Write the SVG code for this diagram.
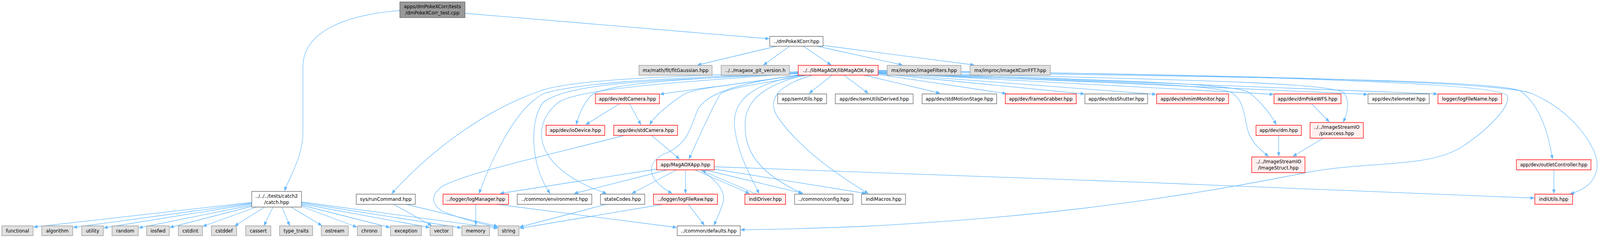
<svg xmlns="http://www.w3.org/2000/svg" width="4442" height="608" viewBox="0 0 4442 608" preserveAspectRatio="none">
<style>
svg{width:100vw;height:100vh}
text{font-family:"DejaVu Sans","Liberation Sans",sans-serif;font-size:13px;fill:#000;text-anchor:middle}
.w{fill:#ffffff;stroke:#666666;stroke-width:1.4}
.r{fill:#fff0f0;stroke:#ff0000;stroke-width:1.4}
.g{fill:#e0e0e0;stroke:#999999;stroke-width:1.4}
.s{fill:#999999;stroke:#666666;stroke-width:1.4}
#edges path{fill:none;stroke:#63b8ff;stroke-width:1.3;marker-end:url(#ah)}
</style>
<defs>
<marker id="ah" markerUnits="userSpaceOnUse" markerWidth="11" markerHeight="9" refX="10" refY="4" orient="auto"><path d="M0,0 L10,4 L0,8 z" fill="#63b8ff" stroke="#63b8ff"/></marker>
</defs>
<rect width="4442" height="608" fill="#ffffff"/>
<g id="edges">
<path d="M1110,27 C960,38 841,80 841,171 L841,337 C841,400 805,450 790,487"/>
<path d="M1291,34 L2135,99"/>
<path d="M699,517 L94,580"/>
<path d="M699,519 L204,581"/>
<path d="M699,521 L289,582"/>
<path d="M699,524 L386,582"/>
<path d="M699,527 L472,581"/>
<path d="M712,529 L564,578"/>
<path d="M735,529 L652,577"/>
<path d="M758,529 L733,576"/>
<path d="M783,529 L804,576"/>
<path d="M808,529 L893,576"/>
<path d="M837,527 L990,580"/>
<path d="M837,524 L1082,581"/>
<path d="M837,521 L1192,581"/>
<path d="M837,518 L1280,582"/>
<path d="M837,516 L1381,583"/>
<path d="M2156,118 L1937,166"/>
<path d="M2192,118 L2120,166"/>
<path d="M2230,118 L2307,166"/>
<path d="M2268,118 L2505,166"/>
<path d="M2285,116 L2704,166"/>
<path d="M2216,183 C1900,195 1600,200 1500,232 C1350,280 1200,380 1088,494"/>
<path d="M2216,185 C1900,200 1650,205 1515,237 C1430,270 1360,420 1330,494"/>
<path d="M2216,187 C1950,205 1600,200 1510,260 C1470,300 1470,420 1527,494"/>
<path d="M2216,188 C1950,205 1600,225 1550,262 C1470,320 1480,430 1683,494"/>
<path d="M2216,186 C1950,200 1680,210 1640,245 C1615,270 1605,300 1600,318"/>
<path d="M2216,191 C2100,210 1900,230 1833,241"/>
<path d="M2218,192 C2050,215 1930,225 1900,240 C1850,270 1815,300 1804,318"/>
<path d="M2243,192 C2100,215 2020,225 2000,240 C1980,270 1935,360 1913,406"/>
<path d="M2222,192 C2050,210 1960,240 1937,280 C1915,330 1910,370 1840,395 C1790,420 1800,460 1865,494"/>
<path d="M2226,192 C2080,215 2030,260 2040,330 C2050,400 2090,460 2107,494"/>
<path d="M2233,192 C2130,215 2080,250 2070,300 C2060,380 2100,440 2227,494"/>
<path d="M2255,192 C2150,220 2130,260 2160,300 C2220,380 2330,450 2410,494"/>
<path d="M2310,192 L2247,238"/>
<path d="M2343,192 L2410,238"/>
<path d="M2400,192 L2609,238"/>
<path d="M2438,190 L2793,239"/>
<path d="M2438,188 L3010,240"/>
<path d="M2438,187 L3209,241"/>
<path d="M2438,186 L3535,241"/>
<path d="M2438,185 L3796,241"/>
<path d="M2438,184 L3990,240"/>
<path d="M2438,186 C2900,200 3420,210 3465,235 C3500,258 3530,295 3543,318"/>
<path d="M2438,184 C3000,200 3680,205 3730,236 C3748,255 3742,290 3729,311"/>
<path d="M2438,188 C2900,205 3370,212 3420,237 C3455,258 3455,300 3462,325 C3470,360 3495,380 3521,399"/>
<path d="M2438,182 C3200,195 4150,200 4220,232 C4280,270 4300,350 4310,406"/>
<path d="M2438,180 C3300,190 4180,205 4255,240 C4330,270 4390,320 4425,385 C4450,440 4420,480 4360,495"/>
<path d="M2438,181 C3400,190 4170,210 4185,245 C4195,275 4120,340 4050,380 C3950,430 3800,410 3620,442 C3200,520 2800,560 2400,578 C2250,584 2150,586 2057,587"/>
<path d="M1720,265 L1627,318"/>
<path d="M1748,265 L1779,318"/>
<path d="M1733,346 C1550,390 1300,440 1230,475 C1190,500 1200,525 1230,540 C1280,560 1340,572 1381,581"/>
<path d="M1809,346 L1886,406"/>
<path d="M1823,432 L1389,494"/>
<path d="M1853,434 L1595,494"/>
<path d="M1878,434 L1755,494"/>
<path d="M1903,434 L1903,494"/>
<path d="M1945,434 C1990,460 2015,490 2008,515 C2000,540 1990,560 1982,575"/>
<path d="M1929,434 L2080,494"/>
<path d="M2100,496 L1949,436"/>
<path d="M1957,434 L2229,494"/>
<path d="M1983,432 L2403,494"/>
<path d="M1983,426 C2600,445 3600,480 4259,506"/>
<path d="M1911,522 L1955,575"/>
<path d="M1840,522 L1444,583"/>
<path d="M1683,522 L1443,580"/>
<path d="M1321,522 L1321,575"/>
<path d="M1380,522 L1878,581"/>
<path d="M1093,522 L1198,576"/>
<path d="M1127,522 L1381,578"/>
<path d="M3641,265 L3690,311"/>
<path d="M3550,346 L3550,399"/>
<path d="M3674,353 L3590,399"/>
<path d="M4314,434 L4314,494"/>
</g>
<g id="n_src"><rect class="s" x="1110" y="5" width="181" height="40"/><text x="1200.5" y="21">apps/dmPokeXCorr/tests</text><text x="1200.5" y="37">/dmPokeXCorr_test.cpp</text></g>
<g id="n_dmpx"><rect class="w" x="2137" y="93" width="148" height="25"/><text x="2211" y="110">../dmPokeXCorr.hpp</text></g>
<g id="n_fitg"><rect class="g" x="1774" y="167" width="203" height="25"/><text x="1875.5" y="184">mx/math/fit/fitGaussian.hpp</text></g>
<g id="n_git"><rect class="g" x="2002" y="167" width="190" height="25"/><text x="2097" y="184">../../magaox_git_version.h</text></g>
<g id="n_lib"><rect class="r" x="2216" y="167" width="222" height="25"/><text x="2327" y="184">../../libMagAOX/libMagAOX.hpp</text></g>
<g id="n_imf"><rect class="g" x="2463" y="167" width="205" height="25"/><text x="2565.5" y="184">mx/improc/imageFilters.hpp</text></g>
<g id="n_ixc"><rect class="g" x="2693" y="167" width="223" height="25"/><text x="2804.5" y="184">mx/improc/imageXCorrFFT.hpp</text></g>
<g id="n_edt"><rect class="r" x="1653" y="240" width="178" height="25"/><text x="1742" y="257">app/dev/edtCamera.hpp</text></g>
<g id="n_semu"><rect class="w" x="2159" y="240" width="136" height="25"/><text x="2227" y="257">app/semUtils.hpp</text></g>
<g id="n_semd"><rect class="w" x="2319" y="240" width="216" height="25"/><text x="2427" y="257">app/dev/semUtilsDerived.hpp</text></g>
<g id="n_stdm"><rect class="w" x="2560" y="240" width="207" height="25"/><text x="2663.5" y="257">app/dev/stdMotionStage.hpp</text></g>
<g id="n_fg"><rect class="r" x="2791" y="240" width="197" height="25"/><text x="2889.5" y="257">app/dev/frameGrabber.hpp</text></g>
<g id="n_dss"><rect class="w" x="3012" y="240" width="174" height="25"/><text x="3099" y="257">app/dev/dssShutter.hpp</text></g>
<g id="n_shm"><rect class="r" x="3211" y="240" width="200" height="25"/><text x="3311" y="257">app/dev/shmimMonitor.hpp</text></g>
<g id="n_wfs"><rect class="r" x="3537" y="240" width="186" height="25"/><text x="3630" y="257">app/dev/dmPokeWFS.hpp</text></g>
<g id="n_tel"><rect class="w" x="3798" y="240" width="170" height="25"/><text x="3883" y="257">app/dev/telemeter.hpp</text></g>
<g id="n_lfn"><rect class="r" x="3992" y="240" width="177" height="25"/><text x="4080.5" y="257">logger/logFileName.hpp</text></g>
<g id="n_io"><rect class="r" x="1516" y="320" width="163" height="26"/><text x="1597.5" y="337.5">app/dev/ioDevice.hpp</text></g>
<g id="n_stdc"><rect class="r" x="1704" y="320" width="177" height="26"/><text x="1792.5" y="337.5">app/dev/stdCamera.hpp</text></g>
<g id="n_dm"><rect class="r" x="3487" y="320" width="126" height="26"/><text x="3550" y="337.5">app/dev/dm.hpp</text></g>
<g id="n_pix"><rect class="r" x="3637" y="313" width="148" height="40"/><text x="3711" y="329">../../ImageStreamIO</text><text x="3711" y="345">/pixaccess.hpp</text></g>
<g id="n_app"><rect class="r" x="1823" y="408" width="160" height="26"/><text x="1903" y="425.5">app/MagAOXApp.hpp</text></g>
<g id="n_is"><rect class="r" x="3475" y="401" width="148" height="40"/><text x="3549" y="417">../../ImageStreamIO</text><text x="3549" y="433">/ImageStruct.hpp</text></g>
<g id="n_out"><rect class="r" x="4210" y="408" width="207" height="26"/><text x="4313.5" y="425.5">app/dev/outletController.hpp</text></g>
<g id="n_catch"><rect class="w" x="699" y="489" width="138" height="40"/><text x="768" y="505">../../../tests/catch2</text><text x="768" y="521">/catch.hpp</text></g>
<g id="n_run"><rect class="w" x="989" y="496" width="164" height="26"/><text x="1071" y="513.5">sys/runCommand.hpp</text></g>
<g id="n_logm"><rect class="r" x="1230" y="496" width="182" height="26"/><text x="1321" y="513.5">../logger/logManager.hpp</text></g>
<g id="n_env"><rect class="w" x="1436" y="496" width="207" height="26"/><text x="1539.5" y="513.5">../common/environment.hpp</text></g>
<g id="n_sc"><rect class="w" x="1667" y="496" width="123" height="26"/><text x="1728.5" y="513.5">stateCodes.hpp</text></g>
<g id="n_lfr"><rect class="r" x="1814" y="496" width="178" height="26"/><text x="1903" y="513.5">../logger/logFileRaw.hpp</text></g>
<g id="n_indd"><rect class="r" x="2068" y="496" width="113" height="26"/><text x="2124.5" y="513.5">indiDriver.hpp</text></g>
<g id="n_cfg"><rect class="w" x="2206" y="496" width="162" height="26"/><text x="2287" y="513.5">../common/config.hpp</text></g>
<g id="n_indm"><rect class="w" x="2392" y="496" width="122" height="26"/><text x="2453" y="513.5">indiMacros.hpp</text></g>
<g id="n_indu"><rect class="r" x="4261" y="496" width="105" height="26"/><text x="4313.5" y="513.5">indiUtils.hpp</text></g>
<g id="n_functional"><rect class="g" x="5" y="577" width="87" height="25"/><text x="48.5" y="594">functional</text></g>
<g id="n_algorithm"><rect class="g" x="116" y="577" width="86" height="25"/><text x="159" y="594">algorithm</text></g>
<g id="n_utility"><rect class="g" x="227" y="577" width="60" height="25"/><text x="257" y="594">utility</text></g>
<g id="n_random"><rect class="g" x="311" y="577" width="73" height="25"/><text x="347.5" y="594">random</text></g>
<g id="n_iosfwd"><rect class="g" x="407" y="577" width="63" height="25"/><text x="438.5" y="594">iosfwd</text></g>
<g id="n_cstdint"><rect class="g" x="495" y="577" width="67" height="25"/><text x="528.5" y="594">cstdint</text></g>
<g id="n_cstddef"><rect class="g" x="587" y="577" width="70" height="25"/><text x="622" y="594">cstddef</text></g>
<g id="n_cassert"><rect class="g" x="682" y="577" width="70" height="25"/><text x="717" y="594">cassert</text></g>
<g id="n_type_traits"><rect class="g" x="776" y="577" width="92" height="25"/><text x="822" y="594">type_traits</text></g>
<g id="n_ostream"><rect class="g" x="892" y="577" width="75" height="25"/><text x="929.5" y="594">ostream</text></g>
<g id="n_chrono"><rect class="g" x="992" y="577" width="67" height="25"/><text x="1025.5" y="594">chrono</text></g>
<g id="n_exception"><rect class="g" x="1084" y="577" width="86" height="25"/><text x="1127" y="594">exception</text></g>
<g id="n_vector"><rect class="g" x="1194" y="577" width="63" height="25"/><text x="1225.5" y="594">vector</text></g>
<g id="n_memory"><rect class="g" x="1282" y="577" width="77" height="25"/><text x="1320.5" y="594">memory</text></g>
<g id="n_string"><rect class="g" x="1383" y="577" width="58" height="25"/><text x="1412" y="594">string</text></g>
<g id="n_defaults"><rect class="w" x="1880" y="577" width="175" height="25"/><text x="1967.5" y="594">../common/defaults.hpp</text></g>
</svg>
